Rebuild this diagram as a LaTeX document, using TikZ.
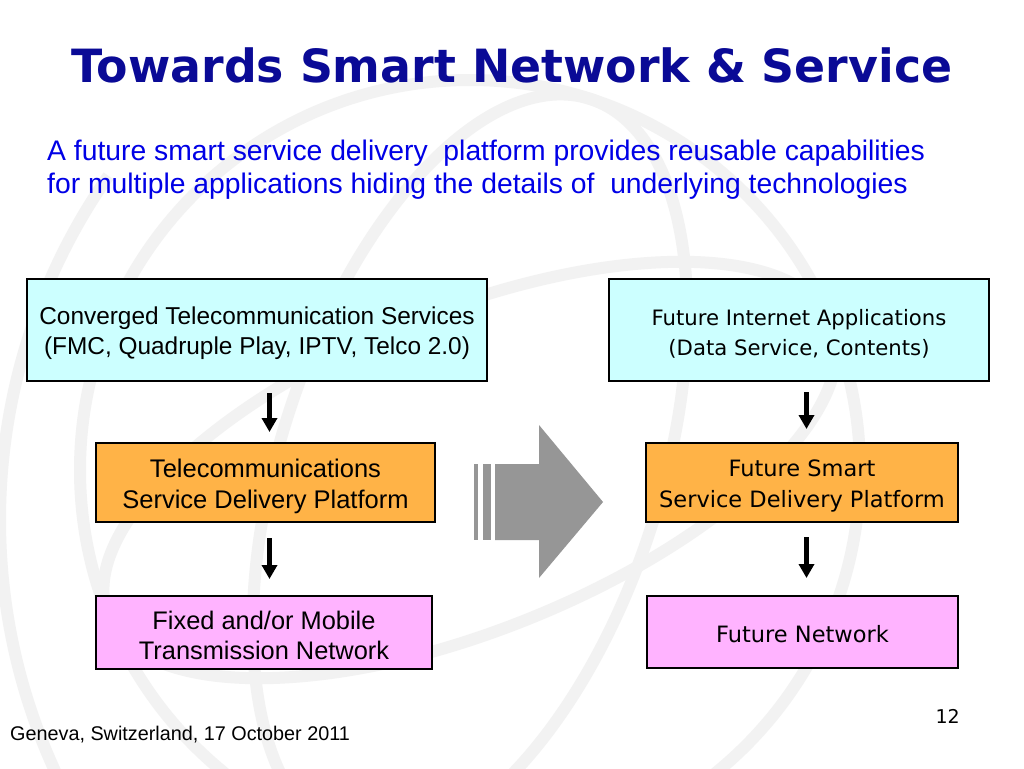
\documentclass[tikz,border=0pt]{standalone}
\usepackage{fontspec}
\setmainfont{Liberation Sans}
\newfontfamily\verd{DejaVu Sans}
\usetikzlibrary{arrows.meta}
\definecolor{titleblue}{RGB}{10,10,150}
\definecolor{subblue}{RGB}{0,0,230}
\definecolor{boxcyan}{RGB}{204,255,255}
\definecolor{boxorange}{RGB}{255,179,71}
\definecolor{boxpink}{RGB}{255,179,255}
\definecolor{bigarrow}{RGB}{150,150,150}
\definecolor{globe}{RGB}{242,242,242}
\tikzset{
  box/.style={draw=black, line width=1.8pt, inner sep=0pt},
  txt/.style={inner sep=0pt, align=center, text=black},
  flow/.style={line width=5pt, -{Triangle[length=14pt,width=15pt]}},
  globeline/.style={draw=globe, line width=12pt}
}
\begin{document}
\begin{tikzpicture}[x=1pt,y=-1pt]
\useasboundingbox (0,0) rectangle (1024,768);
\fill[white] (0,0) rectangle (1024,768);
% watermark globe (approximation)
\begin{scope}
\clip (0,0) rectangle (1024,768);
\draw[globeline] (470,470) circle [radius=390];
\draw[globeline] (600,520) ++(145:600) arc [start angle=145, end angle=215, radius=600];
\draw[globeline, rotate around={-18:(470,470)}] (470,470) ellipse [x radius=190, y radius=390];
\draw[globeline, rotate around={22:(470,470)}] (470,470) ellipse [x radius=390, y radius=160];
\end{scope}
% title
\node[anchor=base, text=titleblue, font=\verd\bfseries\fontsize{45.8}{50}\selectfont] (title) at (512,82) {Towards Smart Network \& Service};
% subtitle
\node[anchor=base west, text=subblue, font=\fontsize{28.3}{33}\selectfont, inner sep=0pt] (sub1) at (47,160) {A future smart service delivery\ \ platform provides reusable capabilities};
\node[anchor=base west, text=subblue, font=\fontsize{28.3}{33}\selectfont, inner sep=0pt] (sub2) at (47,193) {for multiple applications hiding the details of\ \ underlying technologies};
% left column
\node[box, fill=boxcyan, minimum width=460pt, minimum height=102pt] (l1) at (257,330) {};
\node[txt, font=\fontsize{24.4}{30}\selectfont] (l1t) at ([yshift=-3.5pt]l1.center) {Converged Telecommunication Services\\(FMC, Quadruple Play, IPTV, Telco 2.0)};
\node[box, fill=boxorange, minimum width=339pt, minimum height=79pt] (l2) at (265.5,482.5) {};
\node[txt, font=\fontsize{25.5}{31}\selectfont] (l2t) at ([yshift=-3.5pt]l2.center) {Telecommunications\\Service Delivery Platform};
\node[box, fill=boxpink, minimum width=336pt, minimum height=73pt] (l3) at (264,632.5) {};
\node[txt, font=\fontsize{25.4}{30}\selectfont] (l3t) at ([yshift=-3pt]l3.center) {Fixed and/or Mobile\\Transmission Network};
% right column
\node[box, fill=boxcyan, minimum width=380pt, minimum height=102pt] (r1) at (799,330) {};
\node[txt, font=\verd\fontsize{21.2}{30}\selectfont] (r1t) at ([yshift=-3.5pt]r1.center) {Future Internet Applications\\(Data Service, Contents)};
\node[box, fill=boxorange, minimum width=312pt, minimum height=79pt] (r2) at (802,482.5) {};
\node[txt, font=\verd\fontsize{22.5}{31}\selectfont] (r2t) at ([yshift=-3pt]r2.center) {Future Smart\\Service Delivery Platform};
\node[box, fill=boxpink, minimum width=311pt, minimum height=72pt] (r3) at (802.5,632) {};
\node[txt, font=\verd\fontsize{22.5}{30}\selectfont] (r3t) at ([yshift=-2pt]r3.center) {Future Network};
% small arrows
\coordinate (a1s) at (269.5,393); \coordinate (a1e) at (269.5,432);
\coordinate (a2s) at (269.5,538); \coordinate (a2e) at (269.5,579);
\coordinate (b1s) at (806.5,392); \coordinate (b1e) at (806.5,429);
\coordinate (b2s) at (806.5,537); \coordinate (b2e) at (806.5,578);
\draw[flow] (a1s) -- (a1e);
\draw[flow] (a2s) -- (a2e);
\draw[flow] (b1s) -- (b1e);
\draw[flow] (b2s) -- (b2e);
% big grey arrow
\fill[bigarrow] (474,464) rectangle (478,540);
\fill[bigarrow] (483,464) rectangle (491,540);
\fill[bigarrow] (495,464) -- (539,464) -- (539,425) -- (603,502) -- (539,578) -- (539,540) -- (495,540) -- cycle;
% footer
\node[anchor=base west, inner sep=0pt, font=\fontsize{19.8}{22}\selectfont] (foot) at (10,740) {Geneva, Switzerland, 17 October 2011};
\node[anchor=base east, inner sep=0pt, font=\verd\fontsize{19}{20}\selectfont] (page) at (960,723) {12};
\end{tikzpicture}
\end{document}
